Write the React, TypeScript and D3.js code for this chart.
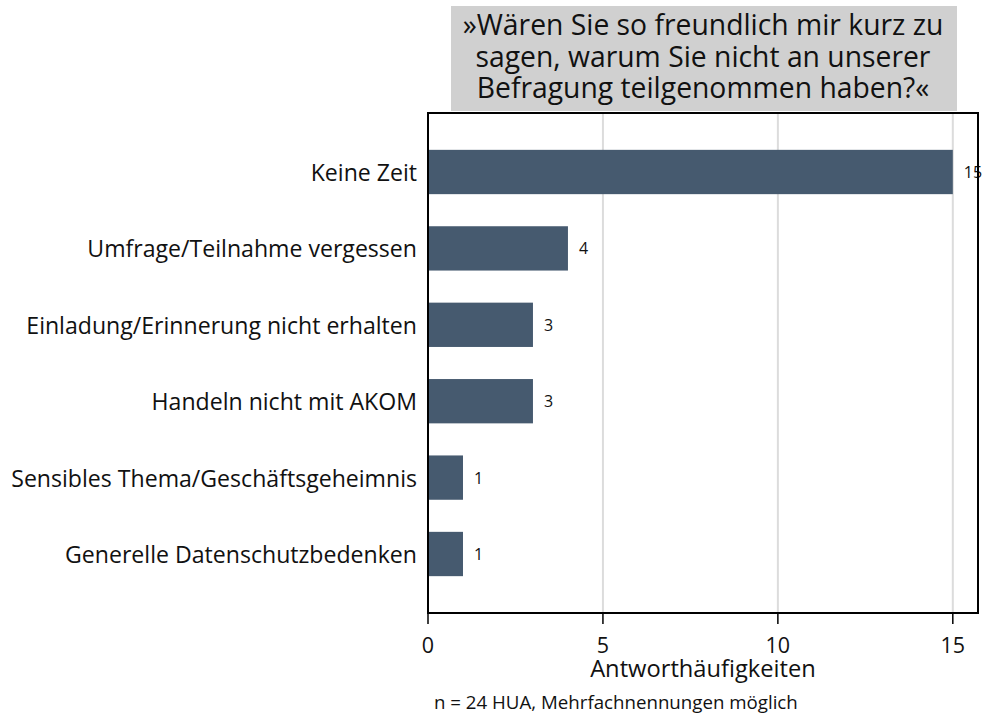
import React from "react";
import * as d3 from "d3";

const categories = [
  "Keine Zeit",
  "Umfrage/Teilnahme vergessen",
  "Einladung/Erinnerung nicht erhalten",
  "Handeln nicht mit AKOM",
  "Sensibles Thema/Geschäftsgeheimnis",
  "Generelle Datenschutzbedenken",
];
const values = [15, 4, 3, 3, 1, 1];
const xTicks = [0, 5, 10, 15];
const titleLines = [
  "»Wären Sie so freundlich mir kurz zu",
  "sagen, warum Sie nicht an unserer",
  "Befragung teilgenommen haben?«",
];
const xTitle = "Antworthäufigkeiten";
const footnote = "n = 24 HUA, Mehrfachnennungen möglich";

const W = 984, H = 715;
const L = 428, R = 978, T = 113, B = 613;
const FONT = "'Open Sans', sans-serif";

export default function App() {
  const x = d3.scaleLinear().domain([0, 15.72]).range([L, R]);
  const y = d3.scaleBand().domain(categories).range([133.8, 592.2]).paddingInner(0.42).paddingOuter(0.21);
  const barColor = "#465a6f";
  return (
    <svg width={W} height={H} style={{ position: "absolute", left: 0, top: 0, fontFamily: FONT }}>
      <rect x={0} y={0} width={W} height={H} fill="#fff" />
      <rect x={451} y={6} width={506} height={105} fill="#d0d0d0" />
      {titleLines.map((t, i) => (
        <text key={i} x={703} y={35 + i * 31.5} textAnchor="middle" fontSize={28.3} fill="#111">{t}</text>
      ))}
      {xTicks.slice(1).map((t) => (
        <line key={t} x1={x(t)} x2={x(t)} y1={T} y2={B} stroke="#dcdcdc" strokeWidth={2} />
      ))}
      {categories.map((c, i) => (
        <g key={c}>
          <rect x={x(0)} y={y(c)!} width={x(values[i]) - x(0)} height={y.bandwidth()} fill={barColor} />
          <text x={x(values[i]) + 11} y={y(c)! + y.bandwidth() / 2} dominantBaseline="central" fontSize={16} fill="#111">{values[i]}</text>
          <text x={417} y={y(c)! + y.bandwidth() / 2} dominantBaseline="central" textAnchor="end" fontSize={23.1} fill="#111">{c}</text>
        </g>
      ))}
      <rect x={L} y={T} width={R - L} height={B - T} fill="none" stroke="#000" strokeWidth={2} />
      {xTicks.map((t) => (
        <g key={t}>
          <line x1={x(t)} x2={x(t)} y1={B} y2={B + 11} stroke="#000" strokeWidth={1.5} />
          <text x={x(t)} y={653} textAnchor="middle" fontSize={21.5} fill="#111">{t}</text>
        </g>
      ))}
      <text x={703} y={677} textAnchor="middle" fontSize={23.7} fill="#111">{xTitle}</text>
      <text x={434} y={709} fontSize={18.7} fill="#111">{footnote}</text>
    </svg>
  );
}
